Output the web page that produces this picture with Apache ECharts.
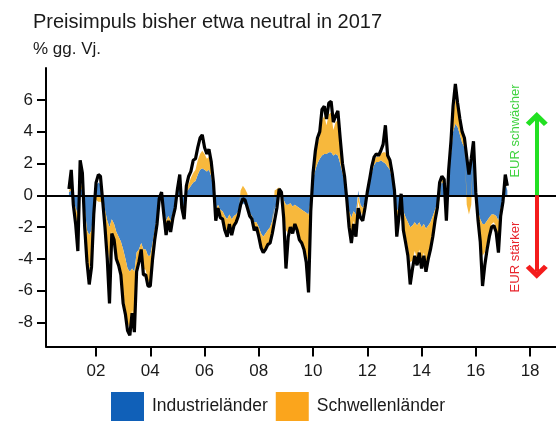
<!DOCTYPE html>
<html>
<head>
<meta charset="utf-8">
<script src="https://cdn.jsdelivr.net/npm/echarts@6/dist/echarts.min.js"></script>
<style>
html, body { margin: 0; padding: 0; background: #fff; }
#chart { width: 556px; height: 421px; }
</style>
</head>
<body>
<div id="chart"></div>
<script>
// monthly observations, starting January 2001
const startYear = 2001
const tickYears = [2002, 2004, 2006, 2008, 2010, 2012, 2014, 2016, 2018]
const yTicks = [-8, -6, -4, -2, 0, 2, 4, 6]

// total price impulse (black line)
const total = [
  0.4, 1.6, -0.6, -1.8, -3.5, 2.2, 1.4, -2.0, -4.2, -5.6,
  -4.5, -1.2, 0.8, 1.3, 1.2, -0.4, -2.0, -4.0, -6.8, -2.4,
  -2.8, -4.0, -4.4, -5.0, -6.8, -7.5, -8.5, -8.8, -7.4, -8.6,
  -4.8, -4.2, -3.4, -5.0, -5.0, -5.7, -5.7, -4.0, -2.8, -1.8,
  -0.2, 0.2, -1.2, -2.5, -1.6, -2.3, -1.4, -0.8, 0.4, 1.3,
  -0.8, -1.5, 0.6, 1.2, 1.5, 2.2, 2.3, 3.0, 3.6, 3.8,
  3.0, 2.6, 2.9, 2.1, 0.8, -1.6, -0.8, -1.4, -1.5, -2.2,
  -2.6, -1.8, -2.5, -1.9, -1.7, -1.3, -0.6, -0.2, -0.3, -0.8,
  -1.3, -1.5, -2.2, -2.0, -2.6, -3.3, -3.6, -3.4, -3.1, -3.0,
  -2.4, -1.6, -0.8, 0.4, 0.2, -1.4, -4.6, -2.6, -2.0, -2.4,
  -1.8, -2.2, -2.8, -3.0, -3.4, -4.2, -6.1, -1.0, 1.4, 2.8,
  3.6, 4.0, 5.4, 5.6, 4.8, 5.8, 5.9, 4.6, 5.0, 5.3,
  3.6, 2.0, 1.2, -0.3, -2.0, -3.0, -1.8, -2.6, -0.8, -1.4,
  -1.6, -0.8, 0.2, 1.0, 1.8, 2.4, 2.6, 2.5, 2.8, 3.2,
  4.4, 2.5, 2.2, 1.4, 0.3, -2.6, -1.4, 0.1, -2.2, -3.0,
  -3.8, -5.6, -4.6, -3.8, -4.4, -3.6, -4.6, -3.8, -4.8, -4.0,
  -3.4, -2.6, -1.6, -0.8, 0.8, 1.2, 1.0, -1.6, 1.6, 3.4,
  5.6, 7.0, 5.8, 4.8, 4.0, 3.6, 2.4, 1.3, 2.3, 3.4,
  0.2, -1.6, -2.9, -5.7, -4.4, -3.4, -2.6, -2.0, -1.9, -2.3,
  -3.6, -1.3, -0.4, 1.3, 0.6
]

// Industrielaender contribution (blue)
const industrial = [
  0.2, 0.3, -0.3, -0.8, -1.2, 0.5, 0.3, -0.8, -2.2, -2.5,
  -2.2, -0.6, 0.6, 0.8, 0.7, -0.2, -0.9, -1.6, -2.0, -1.5,
  -1.8, -2.3, -2.6, -2.9, -3.4, -4.0, -4.6, -4.8, -4.6, -4.8,
  -3.6, -3.4, -3.0, -3.4, -3.4, -3.8, -3.8, -3.0, -2.2, -1.4,
  -0.2, 0.1, -0.9, -1.6, -1.3, -1.6, -1.1, -0.6, 0.2, 0.5,
  -0.4, -0.8, 0.2, 0.4, 0.6, 0.8, 0.9, 1.3, 1.6, 1.7,
  1.6, 1.5, 1.6, 1.2, 0.4, -1.0, -0.6, -0.9, -1.0, -1.3,
  -1.5, -1.2, -1.5, -1.3, -1.2, -1.0, -0.7, -0.5, -0.6, -0.8,
  -1.1, -1.3, -1.7, -1.7, -2.0, -2.4, -2.6, -2.4, -2.2, -2.0,
  -1.6, -0.9, -0.4, 0.2, 0.1, -0.3, -0.6, -0.6, -0.5, -0.7,
  -0.6, -0.7, -0.8, -0.9, -1.0, -1.1, -1.2, -0.3, 1.0, 1.6,
  2.0, 2.3, 2.5, 2.6, 2.6, 2.7, 2.7, 2.5, 2.6, 2.5,
  2.0, 1.4, 0.8, -0.2, -1.0, -1.4, -1.0, -1.2, 0.3, -0.6,
  -0.8, -0.4, 0.1, 0.8, 1.4, 1.9, 2.1, 2.1, 2.2, 2.1,
  2.0, 1.8, 1.6, 1.0, 0.2, -1.0, -0.8, -0.2, -1.0, -1.4,
  -1.7, -2.0, -1.9, -1.7, -1.9, -1.7, -2.0, -1.8, -2.1, -1.9,
  -1.7, -1.3, -0.9, -0.5, 0.6, 0.8, 0.7, -0.6, 1.2, 2.6,
  4.0, 4.5, 4.3, 3.8, 3.3, 3.0, 2.4, 1.8, 2.2, 3.0,
  0.6, -1.0, -1.5, -1.8, -1.8, -1.6, -1.4, -1.2, -1.2, -1.3,
  -1.6, -0.8, -0.2, 0.8, 0.3
]

// Schwellenlaender contribution (orange)
const emerging = [
  0.1, 0.2, -0.2, -0.5, -1.0, 0.3, 0.2, -0.6, -1.6, -2.2,
  -1.6, -0.4, -0.3, -0.4, -0.4, -0.3, -0.8, -1.6, -2.2, -0.8,
  -0.9, -1.5, -1.6, -1.9, -2.8, -3.2, -3.4, -3.6, -2.6, -3.3,
  -1.0, -0.8, -0.4, -1.2, -1.3, -1.6, -1.7, -0.8, -0.5, -0.3,
  0.0, 0.1, -0.2, -0.4, -0.3, -0.4, -0.3, -0.2, 0.1, 0.3,
  -0.2, -0.3, 0.2, 0.3, 0.5, 0.6, 0.7, 0.9, 1.0, 1.1,
  1.0, 0.8, 0.8, 0.6, 0.3, -0.5, -0.2, -0.4, -0.4, -0.6,
  -0.8, -0.5, -0.8, -0.5, -0.4, -0.2, 0.3, 0.6, 0.4, 0.1,
  -0.2, -0.3, -0.4, -0.4, -0.6, -0.8, -1.0, -1.0, -0.9, -0.8,
  -0.6, 0.3, 0.4, 0.3, 0.1, -0.6, -1.6, -1.8, -1.5, -1.7,
  -1.2, -1.4, -1.9, -2.0, -2.3, -2.7, -3.0, -0.5, 0.3, 0.8,
  1.2, 1.4, 2.2, 2.4, 1.8, 2.4, 2.5, 1.6, 2.0, 2.2,
  1.2, 0.4, 0.2, -0.1, -0.6, -1.2, -0.6, -1.0, -0.4, -0.4,
  -0.5, -0.2, 0.1, 0.1, 0.2, 0.3, 0.3, 0.3, 0.4, 0.6,
  0.7, 0.6, 0.4, 0.3, 0.1, -0.5, -0.4, -0.1, -0.8, -1.2,
  -1.6, -2.2, -2.2, -1.8, -2.1, -1.7, -2.2, -1.8, -2.3, -1.9,
  -1.6, -1.2, -0.6, -0.2, -0.3, 0.2, 0.2, -0.4, 0.2, 0.5,
  1.0, 1.5, 1.2, 0.8, 0.5, 0.3, -0.6, -1.2, -0.6, 0.2,
  -0.3, -0.5, -1.2, -2.0, -1.8, -1.4, -1.0, -0.6, -0.5, -0.7,
  -1.2, -0.4, -0.1, 0.2, 0.1
]

const months = total.map((v, i) => new Date(startYear, i, 1).getTime())
// value first, date second: the stack then runs on the value column
const rows = arr => arr.map((v, i) => [v, months[i]])
const enc = { x: 1, y: 0 }
const xTicks = tickYears.map(y => new Date(y, 0, 1).getTime())
const arrowX = new Date(2018, 3, 1).getTime()

const font = 'Liberation Sans, Arial, sans-serif'
const chevron = 'path://M10,0 L20,10 L16.5,13 L10,6.5 L3.5,13 L0,10 Z'

const chart = echarts.init(document.getElementById('chart'))
chart.setOption({
  animation: false,
  title: {
    text: 'Preisimpuls bisher etwa neutral in 2017',
    subtext: '% gg. Vj.',
    left: 33,
    top: 12,
    padding: 0,
    itemGap: 9,
    textStyle: { fontFamily: font, fontSize: 20, fontWeight: 'normal', color: '#1a1a1a' },
    subtextStyle: { fontFamily: font, fontSize: 17, color: '#1a1a1a' }
  },
  legend: {
    left: 111,
    top: 392,
    padding: 0,
    icon: 'rect',
    itemWidth: 33,
    itemHeight: 29,
    itemGap: 8,
    selectedMode: false,
    textStyle: { fontFamily: font, fontSize: 17.5, color: '#1a1a1a', padding: [0, 0, 0, 3] },
    data: [
      { name: 'Industrieländer', itemStyle: { color: '#1060b8' } },
      { name: 'Schwellenländer', itemStyle: { color: '#fba51c' } }
    ]
  },
  grid: { left: 46, right: 0, top: 68, bottom: 74.5 },
  xAxis: {
    type: 'value',
    min: new Date(2000, 1, 27).getTime(),
    max: new Date(2018, 11, 16).getTime(),
    splitLine: { show: false },
    axisLine: { onZero: false, lineStyle: { color: '#000', width: 2 } },
    axisTick: { customValues: xTicks, length: 10, lineStyle: { color: '#000', width: 2 } },
    axisLabel: {
      customValues: xTicks,
      margin: 16,
      fontFamily: font,
      fontSize: 17,
      color: '#1a1a1a',
      formatter: v => String(new Date(v).getFullYear() % 100).padStart(2, '0')
    }
  },
  yAxis: {
    type: 'value',
    min: -9.5,
    max: 8,
    splitLine: { show: false },
    axisLine: { show: true, lineStyle: { color: '#000', width: 2 } },
    axisTick: { customValues: yTicks, length: 9, lineStyle: { color: '#000', width: 2 } },
    axisLabel: { customValues: yTicks, margin: 13, fontFamily: font, fontSize: 17, color: '#1a1a1a' }
  },
  series: [
    {
      name: 'Industrieländer',
      type: 'line',
      stack: 'impulse',
      encode: enc,
      data: rows(industrial),
      showSymbol: false,
      lineStyle: { width: 0 },
      areaStyle: { color: '#4383c8', opacity: 1 },
      itemStyle: { color: '#4383c8' },
      z: 1
    },
    {
      name: 'Schwellenländer',
      type: 'line',
      stack: 'impulse',
      encode: enc,
      data: rows(emerging),
      showSymbol: false,
      lineStyle: { width: 0 },
      areaStyle: { color: '#f7b83c', opacity: 1 },
      itemStyle: { color: '#f7b83c' },
      z: 1
    },
    {
      name: 'Gesamt',
      type: 'line',
      encode: enc,
      data: rows(total),
      showSymbol: false,
      lineStyle: { color: '#000', width: 3.2 },
      z: 3,
      markLine: {
        silent: true,
        symbol: ['none', 'none'],
        label: { show: false },
        data: [
          { yAxis: 0, lineStyle: { color: '#000', width: 2, type: 'solid' } },
          [
            { coord: [arrowX, 0], lineStyle: { color: '#22e022', width: 4, type: 'solid' } },
            { coord: [arrowX, 4.8], symbol: chevron, symbolSize: [22, 14] }
          ],
          [
            { coord: [arrowX, 0], lineStyle: { color: '#f41c1c', width: 4, type: 'solid' } },
            { coord: [arrowX, -4.8], symbol: chevron, symbolSize: [22, 14] }
          ]
        ]
      }
    }
  ],
  graphic: [
    {
      type: 'text',
      x: 515,
      y: 131,
      rotation: Math.PI / 2,
      style: { text: 'EUR schwächer', fill: '#3fd23f', font: '13px ' + font, align: 'center', verticalAlign: 'middle' }
    },
    {
      type: 'text',
      x: 515,
      y: 257,
      rotation: Math.PI / 2,
      style: { text: 'EUR stärker', fill: '#e8242c', font: '13px ' + font, align: 'center', verticalAlign: 'middle' }
    }
  ]
})
</script>
</body>
</html>
